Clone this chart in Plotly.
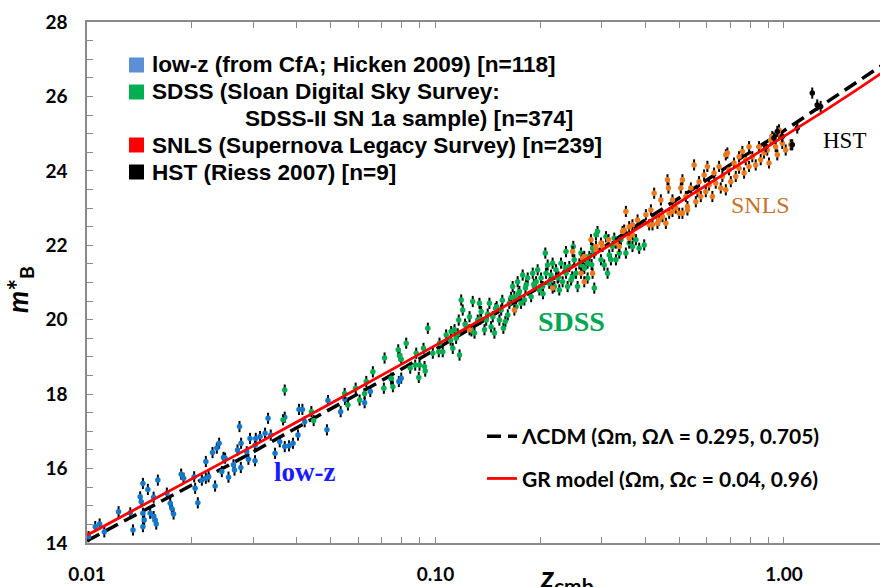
import numpy as np
import plotly.graph_objects as go

# ---------------- data ----------------
lowz_z = [0.0101, 0.01056, 0.01087, 0.01121, 0.01232, 0.01331, 0.01355, 0.01421, 0.01431, 0.01447,
          0.01447, 0.01447, 0.01459, 0.01495, 0.01518, 0.01553, 0.01553, 0.01569, 0.0158, 0.01597,
          0.01695, 0.01733, 0.01752, 0.01772, 0.01863, 0.01893, 0.0203, 0.02043, 0.0208, 0.02136,
          0.02193, 0.02193, 0.02233, 0.02292, 0.02331, 0.02358, 0.02394, 0.02437, 0.02464, 0.02491,
          0.02547, 0.02632, 0.0265, 0.02703, 0.02739, 0.02763, 0.02768, 0.02873, 0.02905, 0.02936,
          0.03035, 0.03035, 0.03137, 0.03243, 0.0305, 0.03308, 0.03367, 0.03464, 0.03573, 0.03693,
          0.03693, 0.038, 0.03901, 0.04031, 0.04058, 0.0415, 0.04213, 0.04881, 0.04914, 0.05344,
          0.05497, 0.0626, 0.065, 0.07466, 0.07849, 0.07975]
lowz_m = [14.17, 14.44, 14.51, 14.30, 14.84, 14.81, 14.35, 15.24, 15.11, 15.60,
          14.80, 14.44, 14.62, 15.44, 14.80, 15.23, 14.71, 14.62, 14.51, 15.69,
          15.34, 15.07, 14.93, 14.78, 15.85, 15.74, 15.78, 15.47, 15.08, 15.69,
          15.74, 16.19, 15.78, 16.43, 15.53, 16.55, 16.68, 15.92, 16.30, 16.28,
          15.77, 16.10, 15.96, 16.50, 17.13, 16.03, 16.68, 16.45, 16.25, 16.81,
          16.21, 16.63, 16.86, 16.95, 16.81, 17.35, 16.90, 16.41, 16.72, 16.59,
          17.38, 16.61, 16.68, 16.90, 17.59, 17.59, 17.26, 17.04, 17.83, 17.53,
          17.86, 17.77, 18.07, 18.40, 18.34, 18.43]

sdss_z = [0.03693, 0.03652, 0.04404, 0.04471, 0.05487, 0.05607, 0.059, 0.06057, 0.0626, 0.0633,
          0.06612, 0.0711, 0.07143, 0.07466, 0.07546, 0.07818, 0.07885, 0.07975, 0.08241, 0.08462,
          0.08745, 0.08804, 0.08955, 0.08998, 0.09344, 0.09505, 0.1022,
          0.09239, 0.093, 0.09824, 0.1027, 0.1049, 0.1073, 0.1109, 0.1121, 0.1134, 0.1146,
          0.1172, 0.1166, 0.1185, 0.1197, 0.1225, 0.1252, 0.1279, 0.1294, 0.1322, 0.1337,
          0.1352, 0.1382, 0.1398, 0.1428, 0.1444, 0.146, 0.1476, 0.1498, 0.1525, 0.1543,
          0.1566, 0.1587, 0.1612, 0.1629, 0.1665, 0.1684, 0.1703, 0.1721, 0.1741, 0.176,
          0.1779, 0.1799, 0.182, 0.1839, 0.1881, 0.1901, 0.1922, 0.1944, 0.1964, 0.1986,
          0.2009, 0.203, 0.2066, 0.2076, 0.2098, 0.2121, 0.2145, 0.2168, 0.2193, 0.2217,
          0.2241, 0.2266, 0.2292, 0.2316, 0.2369, 0.2369, 0.2394, 0.2421, 0.2448, 0.2486,
          0.2502, 0.253, 0.2557, 0.2615, 0.2673, 0.2732, 0.2763, 0.2823, 0.2855, 0.2887,
          0.3049, 0.3084, 0.3152, 0.3221, 0.3294, 0.3404, 0.3518, 0.3675, 0.3759, 0.3841, 0.3971,
          0.2643, 0.2732, 0.2855, 0.2917, 0.2984, 0.3117, 0.3187, 0.3258, 0.3367, 0.3596,
          0.1105, 0.1158, 0.1216, 0.1268, 0.1345, 0.1412, 0.1487, 0.1555, 0.1648, 0.1732,
          0.1812, 0.1915, 0.2035, 0.2132, 0.2255, 0.2355, 0.2468, 0.2587, 0.2705, 0.2805]
sdss_m = [18.11, 17.31, 17.53, 17.29, 18.02, 17.71, 18.16, 17.84, 18.02, 18.34,
          18.60, 18.16, 18.97, 18.43, 18.20, 19.19, 19.03, 18.94, 19.37, 18.70,
          18.78, 19.10, 18.45, 18.78, 18.62, 19.77, 19.14,
          19.23, 18.74, 19.10, 19.37, 19.14, 19.59, 19.68, 19.23, 19.73, 19.50,
          19.05, 19.99, 20.53, 20.26, 19.81, 20.08, 20.49, 19.64, 19.99, 20.44,
          20.22, 19.73, 19.99, 20.44, 19.81, 20.08, 19.64, 20.35, 19.99, 20.26,
          19.77, 19.95, 20.13, 20.44, 20.89, 20.62, 20.35, 21.02, 20.76, 20.44,
          21.20, 20.53, 20.94, 21.12, 20.62, 21.25, 20.89, 21.02, 21.34, 20.80,
          21.12, 20.89, 21.79, 21.25, 21.47, 20.98, 21.20, 21.52, 20.89, 21.34,
          21.12, 20.80, 21.52, 21.02, 21.83, 21.25, 20.89, 21.43, 21.07, 21.97,
          21.61, 21.25, 20.89, 21.79, 21.38, 21.12, 21.70, 21.92, 20.85, 22.28,
          21.47, 22.23, 21.74, 21.97, 21.61, 22.15, 21.79, 21.97, 22.15, 21.92, 22.01,
          21.43, 21.52, 21.79, 22.37, 21.61, 21.25, 21.61, 22.19, 21.79, 22.06,
          19.45, 19.62, 19.88, 19.70, 20.02, 20.15, 20.30, 20.52, 20.60, 20.70,
          20.85, 20.95, 20.70, 21.05, 21.15, 21.40, 21.15, 21.50, 21.60, 21.48]

snls_z = [0.1252, 0.1684, 0.2168, 0.2474, 0.2615, 0.2643, 0.2673, 0.2793, 0.2823, 0.2887,
          0.3518, 0.3441, 0.3675, 0.4016, 0.4194, 0.4384, 0.4582, 0.4786, 0.5112, 0.5284,
          0.2984, 0.3294, 0.3596, 0.2673, 0.2887, 0.3016, 0.3137, 0.3367, 0.3479, 0.3596,
          0.3675, 0.38, 0.4104, 0.415, 0.4241, 0.4335, 0.4433, 0.448, 0.4631, 0.4661,
          0.4683, 0.4786, 0.4894, 0.5002, 0.5058, 0.5112, 0.5228, 0.5284, 0.5404, 0.5522,
          0.5585, 0.5644, 0.5707, 0.5771, 0.5899, 0.5965, 0.6028, 0.6096, 0.6231, 0.63,
          0.6371, 0.6512, 0.6585, 0.6655, 0.6808, 0.6879, 0.6957, 0.7036, 0.719, 0.7271,
          0.7432, 0.7595, 0.7681, 0.7768, 0.7938, 0.8113, 0.8296, 0.8479, 0.8574, 0.8763,
          0.8955, 0.9057, 0.9256, 0.9467, 0.9567, 0.9676, 0.9888, 1.0113, 1.0452,
          0.6808, 0.7432, 0.7938, 0.9159, 0.9676]
snls_m = [19.73, 20.26, 20.85, 21.83, 21.25, 21.65, 21.02, 22.15, 21.25, 21.97,
          22.91, 22.37, 22.55, 22.82, 22.55, 22.68, 22.59, 22.91, 22.86, 23.04,
          22.06, 22.06, 22.19, 21.70, 21.88, 21.97, 22.15, 21.97, 22.41, 22.50,
          22.28, 22.68, 22.55, 22.95, 23.40, 22.59, 23.22, 22.77, 23.76, 23.54,
          22.86, 23.22, 23.00, 22.86, 23.54, 23.76, 23.31, 22.95, 23.54, 24.16,
          23.17, 23.44, 23.71, 23.31, 23.89, 23.44, 24.12, 23.62, 23.31, 23.94,
          23.67, 24.12, 23.54, 23.85, 23.49, 24.48, 24.03, 23.71, 24.21, 23.85,
          24.07, 24.52, 23.94, 24.30, 24.12, 24.38, 24.16, 24.65, 24.30, 24.48,
          24.56, 24.21, 24.92, 24.65, 24.43, 24.97, 24.74, 24.56, 24.70,
          24.43, 24.38, 24.65, 24.83, 25.10]

hst_z = [1.2052, 1.2456, 1.2741, 1.0917, 0.9567, 0.9888, 0.9361, 0.8864, 1.0563]
hst_m = [26.09, 25.77, 25.73, 25.15, 25.06, 24.92, 24.88, 24.65, 24.70]

model_z = [0.01, 0.015, 0.02, 0.03, 0.05, 0.07, 0.1, 0.15, 0.2, 0.3, 0.4, 0.5, 0.7, 1.0, 1.3, 1.6, 1.9]
lcdm_m = [14.06, 14.93, 15.56, 16.45, 17.60, 18.36, 19.20, 20.18, 20.89, 21.92, 22.68, 23.29,
          24.16, 25.08, 25.79, 26.35, 26.82]
gr_m = [14.21, 15.09, 15.72, 16.61, 17.75, 18.50, 19.31, 20.24, 20.91, 21.87, 22.58, 23.15,
        24.00, 24.91, 25.60, 26.15, 26.62]

m_err = 0.15

legend_lines = [
    "low-z (from CfA; Hicken 2009) [n=118]",
    "SDSS (Sloan Digital Sky Survey:",
    "SDSS-II SN 1a sample) [n=374]",
    "SNLS (Supernova Legacy Survey) [n=239]",
    "HST (Riess 2007) [n=9]",
]
model_labels = ["\u039bCDM (\u03a9m, \u03a9\u039b = 0.295, 0.705)", "GR model (\u03a9m, \u03a9c = 0.04, 0.96)"]

region_labels = ["low-z", "SDSS", "SNLS", "HST"]
region_z = [0.0422, 0.2464, 0.859, 1.496]
region_m = [15.91, 19.94, 23.09, 24.81]

x_ticks = [0.01, 0.1, 1.0]
x_ticktext = ["0.01", "0.10", "1.00"]
x_minor = [0.02, 0.03, 0.04, 0.05, 0.06, 0.07, 0.08, 0.09,
           0.2, 0.3, 0.4, 0.5, 0.6, 0.7, 0.8, 0.9]

# ---------------- styling ----------------
point_colors = ["#1479cc", "#00b050", "#ec7a1c", "#000000"]
legend_colors = ["#5b8fd6", "#00b050", "#ff0000", "#000000"]
label_colors = ["#1a1aff", "#00a651", "#c4732c", "#000000"]
label_sizes = [27, 28, 24, 23]
label_bold = [True, True, False, False]

FIG_W, FIG_H = 880, 587
ML, MR, MT, MB = 87, 0, 22, 44
PW = FIG_W - ML - MR
PH = FIG_H - MT - MB


def px_x(p):
    return (p - ML) / PW


def px_y(p):
    return (FIG_H - MB - p) / PH


fig = go.Figure()

fig.add_trace(go.Scatter(
    x=model_z, y=lcdm_m, mode="lines", name=model_labels[0],
    line=dict(color="black", width=3.5, dash="14px,7px"),
    legendgroup="a", hoverinfo="skip"))

datasets = [(lowz_z, lowz_m), (sdss_z, sdss_m), (snls_z, snls_m), (hst_z, hst_m)]
for (zz, mm), col in zip(datasets, point_colors):
    fig.add_trace(go.Scatter(
        x=zz, y=mm, mode="markers", showlegend=False,
        marker=dict(color=col, size=5.5, line=dict(width=0)),
        error_y=dict(type="constant", value=m_err, color="black", thickness=2, width=0)))

fig.add_trace(go.Scatter(
    x=model_z, y=gr_m, mode="lines", name=model_labels[1],
    line=dict(color="#ff0000", width=2.8),
    legendgroup="b", hoverinfo="skip"))

axis_gray = "#8a8a8a"
tick_font = dict(family="Lato", size=19, color="black", weight="bold")

fig.update_layout(
    width=FIG_W, height=FIG_H,
    margin=dict(l=ML, r=MR, t=MT, b=MB, autoexpand=False),
    plot_bgcolor="white", paper_bgcolor="white",
    showlegend=True,
    legend=dict(x=px_x(482), y=px_y(416), xanchor="left", yanchor="top",
                font=dict(family="Lato", size=21, color="black", weight="bold"),
                bgcolor="rgba(0,0,0,0)", traceorder="grouped", tracegroupgap=12),
    xaxis=dict(type="log", range=[-2, 0.2755], showgrid=False, zeroline=False, automargin=False,
               showline=True, linecolor=axis_gray, linewidth=1.5, mirror="ticks",
               ticks="inside", ticklen=6, tickcolor=axis_gray, tickwidth=1,
               tickmode="array", tickvals=x_ticks, ticktext=x_ticktext, tickfont=tick_font,
               minor=dict(tickmode="array", tickvals=x_minor, ticks="inside", ticklen=6,
                          tickcolor=axis_gray, tickwidth=1, showgrid=False),
               ticklabelstandoff=13),
    yaxis=dict(range=[14, 28], tick0=14, dtick=2, showgrid=False, zeroline=False, automargin=False,
               showline=True, linecolor=axis_gray, linewidth=1.5,
               ticks="inside", ticklen=6, tickcolor=axis_gray, tickwidth=1,
               minor=dict(dtick=0.5, ticks="inside", ticklen=6, tickcolor=axis_gray, showgrid=False),
               tickfont=tick_font, ticklabelstandoff=14),
)

# top-left dataset key (coloured squares + text)
row_y = [65, 92, 119, 145, 172]
row_x = [150, 150, 243, 150, 150]
square_rows = [(0, 0), (1, 1), (3, 2), (4, 3)]
for txt, ry, rx in zip(legend_lines, row_y, row_x):
    fig.add_annotation(xref="paper", yref="paper", x=px_x(rx), y=px_y(ry),
                       xanchor="left", yanchor="middle", showarrow=False, text=txt,
                       font=dict(family="Liberation Sans", size=22.6, color="black", weight="bold"))
for ri, ci in square_rows:
    cy = row_y[ri]
    fig.add_shape(type="rect", xref="paper", yref="paper",
                  x0=px_x(129), x1=px_x(144), y0=px_y(cy + 7.5), y1=px_y(cy - 7.5),
                  fillcolor=legend_colors[ci], line=dict(width=0))

for lab, zz, mm, col, sz, bd in zip(region_labels, region_z, region_m, label_colors, label_sizes, label_bold):
    fig.add_annotation(x=np.log10(zz), y=mm, xref="x", yref="y", text=lab, showarrow=False,
                       font=dict(family="Liberation Serif", size=sz, color=col,
                                 weight="bold" if bd else "normal"))

fig.add_annotation(xref="paper", yref="paper", x=px_x(538), y=0, xanchor="left", yanchor="top",
                   yshift=-13, showarrow=False,
                   text="<b><i>z</i></b><sub><b>cmb</b></sub>",
                   font=dict(family="Lato", size=30, color="black"))
fig.add_annotation(xref="paper", yref="paper", x=px_x(19), y=px_y(290), xanchor="center", yanchor="middle",
                   textangle=-90, showarrow=False,
                   text="<b><i>m</i>*</b><sub><b>B</b></sub>",
                   font=dict(family="Lato", size=28, color="black"))

fig.write_html("out.html", config={"displayModeBar": False},
               post_script="document.body.style.margin='0px';document.body.style.overflow='hidden';")
